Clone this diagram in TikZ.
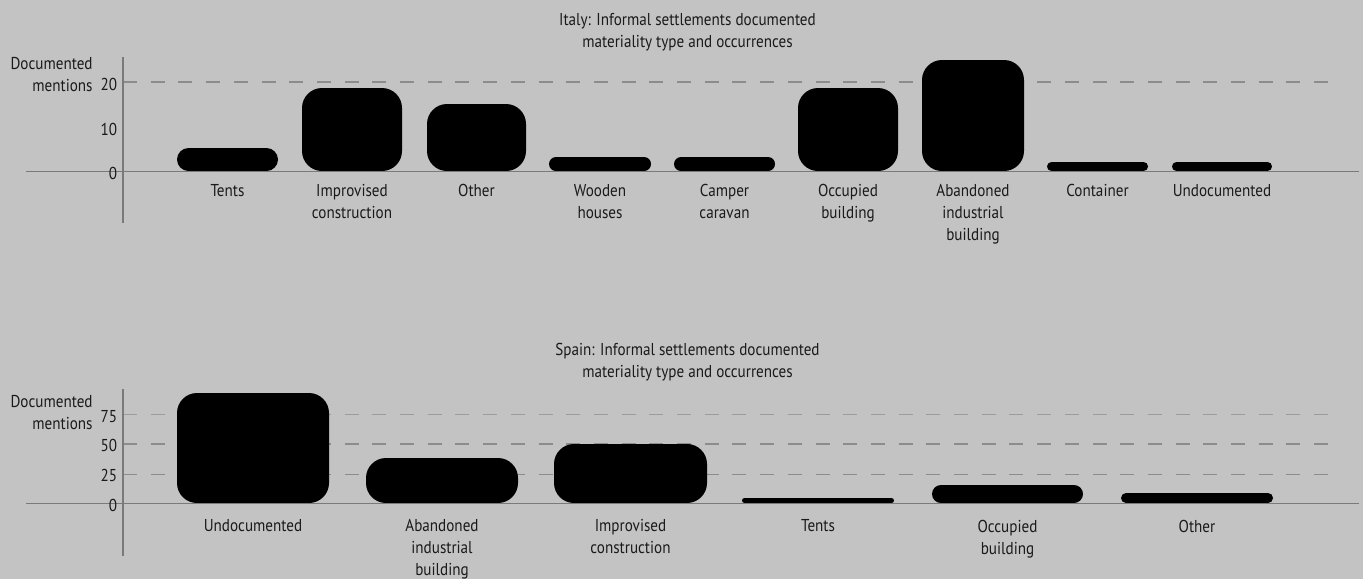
\documentclass[tikz,border=0pt]{standalone}
\usepackage{fontspec}
\setmainfont{PT Sans}[FakeStretch=0.88]
\definecolor{bgc}{HTML}{C3C3C3}
\definecolor{axisc}{HTML}{7A7A7A}
\definecolor{dashc}{HTML}{8C8C8C}
\definecolor{txtc}{HTML}{1A1A1A}
\newcommand\chartbar[4]{%
  \pgfmathsetmacro\rr{min(10,(#4-#3)/4)}%
  \fill[black, rounded corners=\rr pt] (#1,#4) rectangle (#2,#3);}
\begin{document}
\begin{tikzpicture}[x=0.5pt,y=-0.5pt,
  txt/.style={inner sep=0pt, text=txtc, align=center, anchor=base,
    font=\fontsize{8.6}{11}\selectfont},
  ylab/.style={txt, align=right, anchor=base east},
  tick/.style={txt, anchor=base east},
  axisline/.style={draw=axisc, line width=0.8pt},
  gridline/.style={draw=dashc, line width=0.75pt, dash pattern=on 7pt off 6.85pt}]
\fill[bgc] (0,0) rectangle (1363,579);
\useasboundingbox (0,0) rectangle (1363,579);

% ---------- Italy ----------
% (multi-line nodes: anchor base = baseline of the last line)
\node[txt] (ttl1) at (687.5,47) {Italy: Informal settlements documented\\materiality type and occurrences};
\coordinate (g1a) at (123,82); \coordinate (g1b) at (1328,82);
\draw[gridline] (g1a) -- (g1b);
\chartbar{177}{278}{148}{171}
\chartbar{302}{402}{88}{171}
\chartbar{427}{526}{104}{171}
\chartbar{549}{651}{157}{171}
\chartbar{674}{775}{157}{171}
\chartbar{798}{898}{88}{171}
\chartbar{922}{1024}{60}{171}
\chartbar{1047}{1148}{162}{171}
\chartbar{1172}{1272}{162}{171}
\coordinate (ax1t) at (123,57); \coordinate (ax1b) at (123,223);
\coordinate (bl1a) at (26,171.5); \coordinate (bl1b) at (1359,171.5);
\draw[axisline] (ax1t) -- (ax1b);
\draw[axisline] (bl1a) -- (bl1b);
\node[ylab] (yl1) at (93,91.3) {Documented\\mentions};
\node[tick] (t1a) at (117.5,90.7) {20};
\node[tick] (t1b) at (117.5,135.7) {10};
\node[tick] (t1c) at (117.5,179) {0};
\node[txt] (i1) at (227.5,196) {Tents};
\node[txt] (i2) at (352,218) {Improvised\\construction};
\node[txt] (i3) at (476.5,196) {Other};
\node[txt] (i4) at (600,218) {Wooden\\houses};
\node[txt] (i5) at (724.5,218) {Camper\\caravan};
\node[txt] (i6) at (848,218) {Occupied\\building};
\node[txt] (i7) at (973,240) {Abandoned\\industrial\\building};
\node[txt] (i8) at (1097.5,196) {Container};
\node[txt] (i9) at (1222,196) {Undocumented};

% ---------- Spain ----------
\node[txt] (ttl2) at (687.5,377) {Spain: Informal settlements documented\\materiality type and occurrences};
\coordinate (g2a) at (123,414.7); \coordinate (g2b) at (1328,414.7);
\coordinate (g3a) at (123,444); \coordinate (g3b) at (1328,444);
\coordinate (g4a) at (123,474.3); \coordinate (g4b) at (1328,474.3);
\draw[gridline, draw=dashc!70!bgc] (g2a) -- (g2b);
\draw[gridline] (g3a) -- (g3b);
\draw[gridline] (g4a) -- (g4b);
\chartbar{177}{329}{393}{503}
\chartbar{366}{518}{458}{503}
\chartbar{554}{707}{444}{503}
\chartbar{742}{894}{498}{503}
\chartbar{932}{1083}{485}{503}
\chartbar{1121}{1273}{493}{503}
\coordinate (ax2t) at (123,389); \coordinate (ax2b) at (123,556);
\coordinate (bl2a) at (26,503.5); \coordinate (bl2b) at (1359,503.5);
\draw[axisline] (ax2t) -- (ax2b);
\draw[axisline] (bl2a) -- (bl2b);
\node[ylab] (yl2) at (93,429) {Documented\\mentions};
\node[tick] (t2a) at (117.5,422.7) {75};
\node[tick] (t2b) at (117.5,451.7) {50};
\node[tick] (t2c) at (117.5,481.7) {25};
\node[tick] (t2d) at (117.5,511) {0};
\node[txt] (s1) at (253,531) {Undocumented};
\node[txt] (s2) at (442,575) {Abandoned\\industrial\\building};
\node[txt] (s3) at (630.5,553) {Improvised\\construction};
\node[txt] (s4) at (818,531) {Tents};
\node[txt] (s5) at (1007.5,554) {Occupied\\building};
\node[txt] (s6) at (1197,532) {Other};
\end{tikzpicture}
\end{document}
